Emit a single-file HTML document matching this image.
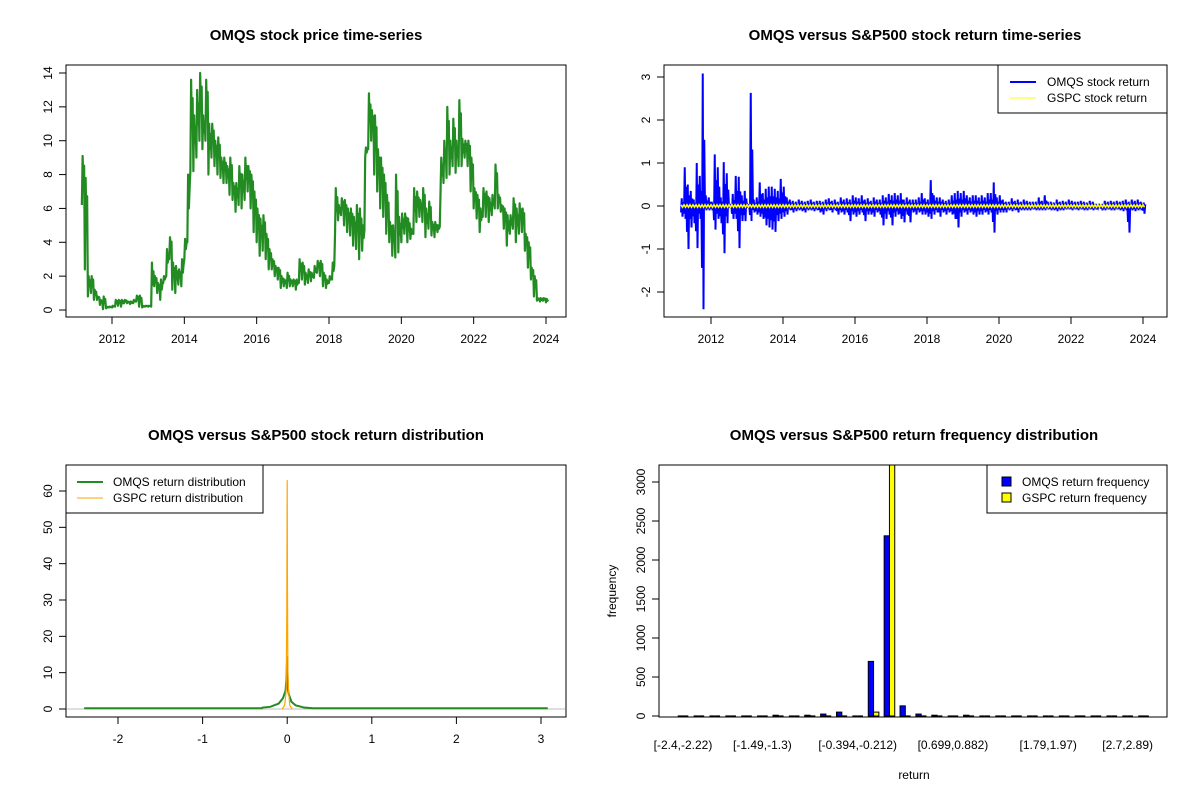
<!DOCTYPE html>
<html><head><meta charset="utf-8"><style>
body{margin:0;background:#fff;}
svg{display:block;font-family:"Liberation Sans",Arial,sans-serif;}
</style></head><body>
<svg id="c" width="1200" height="800" viewBox="0 0 1200 800"></svg>
<script>
// ---- Data ----
const priceStart = 2011 + 2/12;
const priceLow = [6.2,2.4,0.8,1.0,0.6,0.6,0.3,0.05,0.1,0.15,
0.15,0.2,0.25,0.2,0.4,0.4,0.35,0.4,0.5,0.2,0.15,0.2,
0.2,0.2,1.4,1.0,0.6,1.6,2.0,3.0,1.2,1.0,1.5,1.4,
3.0,4.0,8.2,8.2,9.0,10.0,9.5,10.0,8.0,9.0,8.5,8.0,
7.8,7.5,7.5,6.8,6.5,5.8,6.2,6.0,6.5,7.0,6.0,4.6,
4.0,3.2,3.5,3.0,2.4,2.4,2.0,1.8,1.3,1.4,1.3,1.4,
1.4,1.2,1.6,1.8,1.5,1.6,1.7,1.9,2.2,2.0,1.4,1.3,
1.6,1.8,4.5,5.3,5.6,5.0,4.6,4.4,3.8,3.6,3.0,3.5,
9.0,9.5,10.0,8.0,7.0,6.0,5.5,4.5,4.0,3.2,3.1,3.4,
4.0,4.5,4.0,4.2,4.5,5.2,5.5,5.2,4.3,4.8,4.4,4.3,
4.6,6.9,7.5,7.8,8.0,8.5,8.1,8.5,8.5,9.0,8.5,7.0,
6.0,5.4,4.6,5.5,5.5,5.2,5.6,6.0,6.0,5.8,4.8,3.8,
4.5,4.8,4.0,4.5,4.6,3.5,2.5,1.8,0.8,0.55,0.5,0.55,0.45];
const priceHigh = [9.1,7.8,2.0,2.0,1.2,0.8,0.6,0.8,0.2,0.2,
0.25,0.6,0.6,0.6,0.6,0.5,0.5,0.6,0.85,0.85,0.25,0.25,
0.25,2.8,2.0,1.6,1.8,2.0,3.6,4.3,2.8,2.6,2.4,3.0,
4.2,8.0,13.6,11.5,13.0,14.0,11.5,13.6,11.0,11.0,10.0,10.2,
9.0,9.0,8.5,9.0,7.5,7.5,8.5,8.0,9.0,8.5,8.0,7.0,
6.0,5.4,5.6,4.5,3.6,3.0,2.6,2.5,2.0,1.8,2.2,1.8,
1.8,1.8,3.0,2.8,2.2,2.4,2.2,2.6,2.9,2.9,2.2,1.8,
2.0,2.8,7.2,6.2,6.6,6.5,6.0,6.0,5.5,6.2,6.0,5.0,
9.6,12.8,11.8,11.5,9.5,9.0,8.0,6.8,5.2,5.0,8.0,5.5,
5.7,5.7,5.4,4.8,7.2,7.0,6.5,7.2,6.0,6.4,5.2,5.2,
5.0,9.0,10.0,12.0,10.0,11.3,10.0,12.4,10.1,10.0,10.0,9.0,
7.2,6.8,6.0,7.2,7.0,6.6,6.8,8.6,6.8,6.2,6.0,5.6,
5.6,6.6,6.0,6.3,6.0,4.5,4.0,2.5,2.0,0.7,0.7,0.7,0.65];
const retMin = [-0.25,-0.3,-1.0,-0.5,-0.4,-0.98,-0.3,-2.4,-0.1,-0.1,
-0.1,-0.55,-0.3,-0.4,-1.1,-0.4,-0.05,-0.3,-0.3,-0.98,-0.35,-0.35,
-0.02,-0.35,-0.15,-0.2,-0.25,-0.3,-0.45,-0.5,-0.55,-0.6,-0.35,-0.3,
-0.25,-0.2,-0.1,-0.15,-0.12,-0.1,-0.12,-0.15,-0.1,-0.1,-0.12,-0.1,
-0.15,-0.2,-0.12,-0.1,-0.15,-0.1,-0.2,-0.15,-0.2,-0.15,-0.35,-0.2,
-0.25,-0.2,-0.15,-0.35,-0.2,-0.2,-0.25,-0.15,-0.2,-0.45,-0.3,-0.2,
-0.45,-0.25,-0.2,-0.3,-0.38,-0.2,-0.38,-0.15,-0.2,-0.15,-0.2,-0.2,
-0.25,-0.3,-0.2,-0.15,-0.25,-0.15,-0.2,-0.15,-0.2,-0.3,-0.5,-0.25,
-0.15,-0.2,-0.15,-0.2,-0.25,-0.2,-0.2,-0.15,-0.2,-0.15,-0.62,-0.2,
-0.15,-0.15,-0.15,-0.1,-0.12,-0.1,-0.15,-0.1,-0.1,-0.1,-0.1,-0.08,
-0.1,-0.1,-0.1,-0.1,-0.08,-0.1,-0.1,-0.12,-0.1,-0.1,-0.08,-0.08,
-0.1,-0.08,-0.1,-0.08,-0.1,-0.1,-0.08,-0.1,-0.08,-0.05,-0.1,-0.1,
-0.08,-0.1,-0.1,-0.08,-0.1,-0.12,-0.1,-0.62,-0.1,-0.12,-0.1,-0.1,-0.18];
const retMax = [0.18,0.9,0.5,0.35,0.15,1.0,0.7,3.08,0.25,0.2,
0.1,1.2,0.9,0.2,1.02,0.76,0.05,0.28,0.7,0.68,0.25,0.35,
0.02,2.63,0.15,0.2,0.55,0.3,0.4,0.45,0.45,0.4,0.35,0.63,
0.45,0.2,0.15,0.12,0.1,0.15,0.12,0.1,0.12,0.15,0.1,0.12,
0.12,0.1,0.15,0.18,0.12,0.15,0.1,0.2,0.15,0.18,0.15,0.25,
0.2,0.18,0.25,0.15,0.18,0.12,0.2,0.15,0.15,0.25,0.2,0.28,
0.25,0.3,0.25,0.3,0.15,0.2,0.15,0.15,0.15,0.2,0.3,0.18,
0.15,0.6,0.25,0.2,0.2,0.15,0.12,0.15,0.25,0.3,0.35,0.3,
0.35,0.25,0.2,0.25,0.25,0.2,0.25,0.2,0.3,0.3,0.55,0.2,
0.25,0.15,0.1,0.1,0.18,0.12,0.15,0.1,0.15,0.12,0.1,0.1,
0.1,0.2,0.12,0.25,0.1,0.1,0.08,0.15,0.1,0.12,0.1,0.15,
0.12,0.1,0.1,0.12,0.1,0.08,0.12,0.1,0.05,0.05,0.05,0.12,
0.1,0.12,0.1,0.12,0.1,0.12,0.15,0.1,0.15,0.12,0.15,0.1,0.08];
const gspcAmp = 0.03;
const omqsDensX = [-2.4,-0.3,-0.29,-0.2,-0.1,-0.05,-0.02,-0.01,0,0.008,0.02,0.05,0.1,0.2,0.3,3.08];
const omqsDensY = [0.2,0.2,0.4,0.6,1.5,3,5,8,14.5,5.5,4,2,1,0.4,0.2,0.2];
const gspcDensX = [-0.06,-0.03,-0.012,-0.005,0,0.003,0.008,0.015,0.03,0.06];
const gspcDensY = [0,1,5,26,63,34,10,5.5,1,0];
const binLabels = ["[-2.4,-2.22)","[-1.49,-1.3)","[-0.394,-0.212)","[0.699,0.882)","[1.79,1.97)","[2.7,2.89)"];
const binLabelIdx = [0,5,11,17,23,28];
const omqsFreq = [0,0,0,0,0,0,10,0,10,25,50,0,700,2310,130,25,10,0,10,0,0,0,0,0,0,0,0,0,0,0];
const gspcFreq = [0,0,0,0,0,0,0,0,0,0,0,0,50,3270,0,0,0,0,0,0,0,0,0,0,0,0,0,0,0,0];
const yearTicks = [2012,2014,2016,2018,2020,2022,2024];

// ---- helpers ----
const svg = document.getElementById('c');
const NS = 'http://www.w3.org/2000/svg';
function mk(tag, attrs, parent){const e=document.createElementNS(NS,tag);for(const k in attrs)e.setAttribute(k,attrs[k]);(parent||svg).appendChild(e);return e;}
function txt(s,x,y,attrs){const e=mk('text',Object.assign({x:x,y:y,'font-size':12,fill:'#000','text-anchor':'middle'},attrs||{}));e.textContent=s;return e;}
function lin(d0,d1,r0,r1){return v=>r0+(v-d0)*(r1-r0)/(d1-d0);}
function box(x0,y0,x1,y1){return mk('rect',{x:x0,y:y0,width:x1-x0,height:y1-y0,fill:'none',stroke:'#000','stroke-width':1});}
function xAxis(ticks,sx,yb,labels){const g=mk('g',{});
  mk('line',{x1:sx(ticks[0]),x2:sx(ticks[ticks.length-1]),y1:yb,y2:yb,stroke:'#000'},g);
  ticks.forEach((t,i)=>{mk('line',{x1:sx(t),x2:sx(t),y1:yb,y2:yb+7,stroke:'#000'},g);const e=txt(labels?labels[i]:String(t),sx(t),yb+26,{});g.appendChild(e);});}
function yAxis(ticks,sy,xl,labels){const g=mk('g',{});
  mk('line',{x1:xl,x2:xl,y1:sy(ticks[0]),y2:sy(ticks[ticks.length-1]),stroke:'#000'},g);
  ticks.forEach((t,i)=>{const y=sy(t);mk('line',{x1:xl-7,x2:xl,y1:y,y2:y,stroke:'#000'},g);const e=txt(labels?labels[i]:String(t),xl-14,y,{transform:`rotate(-90 ${xl-14} ${y})`});g.appendChild(e);});}
function title(s,x,y){const e=txt(s,x,y,{'font-size':15,'font-weight':'bold'});}

// ===== Panel 1: price =====
{
 const sx=lin(2012,2024,112,546), sy=lin(0,14,310,73);
 title('OMQS stock price time-series',316,40);
 box(66,65,566,317);
 let pts=[];
 priceLow.forEach((lo,i)=>{const t=priceStart+i/12;const hi=priceHigh[i];
   pts.push([sx(t),sy(lo)],[sx(t+0.25/12),sy(hi)],[sx(t+0.5/12),sy((lo+hi)/2)],[sx(t+0.75/12),sy(hi*0.5+lo*0.5+(hi-lo)*0.3)]);});
 const p=mk('polyline',{points:pts.map(q=>q.join(',')).join(' '),fill:'none',stroke:'#228b22','stroke-width':2.2,'stroke-linejoin':'round'});
 
 xAxis(yearTicks,sx,317);
 yAxis([0,2,4,6,8,10,12,14],sy,66);
}
// ===== Panel 2: returns =====
{
 const sx=lin(2012,2024,711,1143), sy=lin(0,3,206,77);
 title('OMQS versus S&P500 stock return time-series',915,40);
 box(664,65,1167,317);
 let pts=[];
 retMin.forEach((lo,i)=>{const t=priceStart+i/12;const hi=retMax[i];
   for(let k=0;k<4;k++){pts.push([sx(t+k/48),sy(k%2?hi*(k==1?1:0.5):lo*(k==0?0.6:1))]);}});
 const p=mk('polyline',{points:pts.map(q=>q.join(',')).join(' '),fill:'none',stroke:'#0000ff','stroke-width':2});
 
 let g=[];retMin.forEach((_,i)=>{const t=priceStart+i/12;g.push([sx(t),sy(gspcAmp)],[sx(t+0.5/12),sy(-gspcAmp)]);});
 const q=mk('polyline',{points:g.map(a=>a.join(',')).join(' '),fill:'none',stroke:'#ffff00','stroke-width':1.5});
 
 xAxis(yearTicks,sx,317);
 yAxis([-2,-1,0,1,2,3],sy,664);
 const lg=mk('g',{});
 mk('rect',{x:998,y:65,width:169,height:48,fill:'#fff',stroke:'#000'},lg);
 mk('line',{x1:1010,x2:1036,y1:82,y2:82,stroke:'#0000ff','stroke-width':2},lg);
 mk('line',{x1:1010,x2:1036,y1:98,y2:98,stroke:'#ffff00','stroke-width':1},lg);
 lg.appendChild(txt('OMQS stock return',1047,86,{'text-anchor':'start'}));
 lg.appendChild(txt('GSPC stock return',1047,102,{'text-anchor':'start'}));
}
// ===== Panel 3: density =====
{
 const sx=lin(-2,3,118,541), sy=lin(0,60,709,491);
 title('OMQS versus S&P500 stock return distribution',316,440);
 box(66,465,566,717);
 mk('line',{x1:67,x2:565,y1:sy(0),y2:sy(0),stroke:'#bebebe'});
 const a=mk('polyline',{points:omqsDensX.map((x,i)=>sx(x)+','+sy(omqsDensY[i])).join(' '),fill:'none',stroke:'#228b22','stroke-width':2});
 
 const b=mk('polyline',{points:gspcDensX.map((x,i)=>sx(x)+','+sy(gspcDensY[i])).join(' '),fill:'none',stroke:'#ffa500','stroke-width':1.2});
 
 xAxis([-2,-1,0,1,2,3],sx,717);
 yAxis([0,10,20,30,40,50,60],sy,66);
 const lg=mk('g',{});
 mk('rect',{x:66,y:465,width:197,height:48,fill:'#fff',stroke:'#000'},lg);
 mk('line',{x1:77,x2:103,y1:482,y2:482,stroke:'#228b22','stroke-width':2},lg);
 mk('line',{x1:77,x2:103,y1:498,y2:498,stroke:'#ffa500','stroke-width':1},lg);
 lg.appendChild(txt('OMQS return distribution',113,486,{'text-anchor':'start'}));
 lg.appendChild(txt('GSPC return distribution',113,502,{'text-anchor':'start'}));
}
// ===== Panel 4: frequency bars =====
{
 const gx=i=>683+i*15.88, bw=5.3, sy=lin(0,3000,716,482), top=465;
 title('OMQS versus S&P500 return frequency distribution',914,440);
 const clip=mk('clipPath',{id:'cp4'});mk('rect',{x:659,y:465,width:508,height:252},clip);
 const bars=mk('g',{'clip-path':'url(#cp4)'});
 function bar(x,v,fill){const y=sy(v);
   if(v<=0){const l=mk('line',{x1:x,x2:x+bw,y1:716,y2:716,stroke:'#000','stroke-width':1.2},bars);return l;}
   return mk('rect',{x:x,y:y,width:bw,height:716-y,fill:fill,stroke:'#000','stroke-width':1},bars);}
 omqsFreq.forEach((v,i)=>{const r=bar(gx(i)-bw,v,'#0000ff');
   });
 gspcFreq.forEach((v,i)=>{const r=bar(gx(i),v,'#ffff00');
   });
 box(659,465,1167,717);
 const xg=mk('g',{});
 binLabelIdx.forEach((b,i)=>xg.appendChild(txt(binLabels[i],gx(b),749,{})));
 yAxis([0,500,1000,1500,2000,2500,3000],sy,659);
 const xt=txt('return',914,779,{});
 const yt=txt('frequency',616,591,{transform:'rotate(-90 616 591)'});
 const lg=mk('g',{});
 mk('rect',{x:987,y:465,width:180,height:48,fill:'#fff',stroke:'#000'},lg);
 mk('rect',{x:1002,y:477,width:9,height:9,fill:'#0000ff',stroke:'#000'},lg);
 mk('rect',{x:1002,y:493,width:9,height:9,fill:'#ffff00',stroke:'#000'},lg);
 lg.appendChild(txt('OMQS return frequency',1022,486,{'text-anchor':'start'}));
 lg.appendChild(txt('GSPC return frequency',1022,502,{'text-anchor':'start'}));
}
</script>
</body></html>
